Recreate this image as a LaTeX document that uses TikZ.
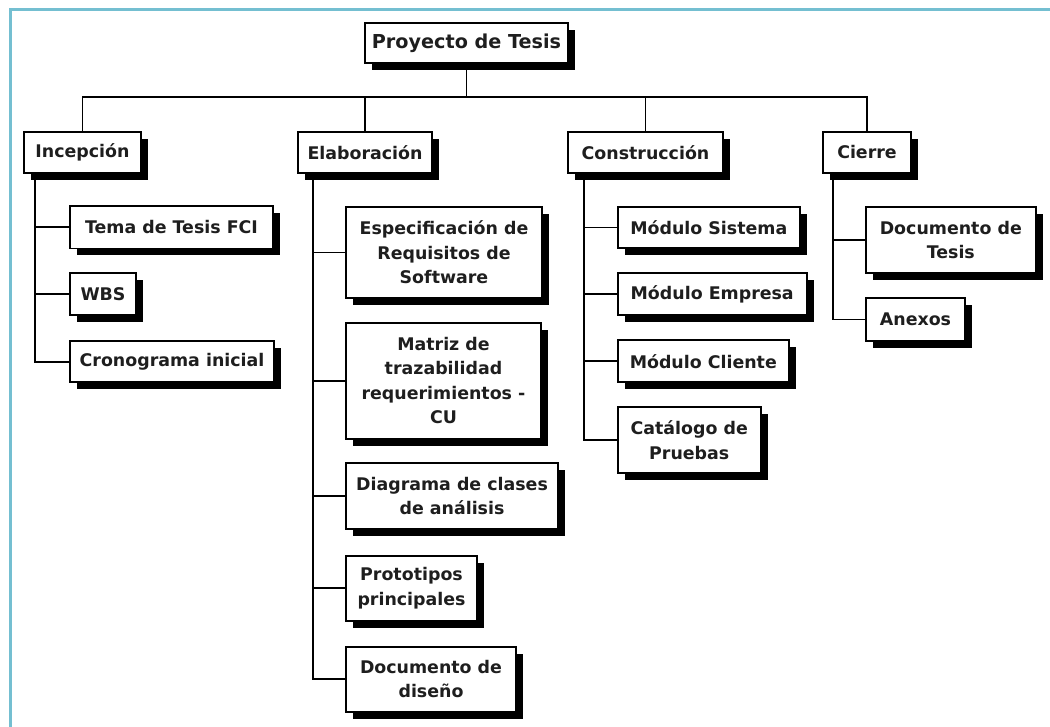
\documentclass[tikz,border=0pt]{standalone}
\usepackage{fontspec}
\setmainfont{DejaVu Sans}
\usetikzlibrary{shadows}
\definecolor{frameblue}{HTML}{74BFD1}
\definecolor{inkgray}{HTML}{1E1E1E}
\tikzset{
  wbsbox/.style={draw=black, line width=1.8pt, fill=white, inner sep=0pt,
    align=center, text=inkgray,
    font=\bfseries\fontsize{17.4}{24.5}\selectfont,
    general shadow={fill=black, shadow xshift=7pt, shadow yshift=-7pt}},
  rootbox/.style={font=\bfseries\fontsize{19.2}{24.5}\selectfont},
  conn/.style={draw=black, line width=1.9pt},
}
\newcommand{\wbsnode}[7][]{%
  \node[wbsbox, #1, minimum width=#5pt, minimum height=#6pt] (#2) at (#3,#4) {#7};}
\begin{document}
\begin{tikzpicture}[x=1pt,y=-1pt]
\useasboundingbox (0,0) rectangle (1050,727);
\fill[white] (0,0) rectangle (1050,727);
% page frame
\draw[frameblue, line width=3pt] (10.5,727) -- (10.5,9.5) -- (1050,9.5);

% root
\wbsnode[rootbox]{root}{466.5}{43}{203}{40}{Proyecto de Tesis}
% phases
\wbsnode{inc}{82.5}{152.5}{117}{41}{Incepción}
\wbsnode{elab}{365}{152.5}{134}{41}{Elaboración}
\wbsnode{cons}{645.5}{152.5}{155}{41}{Construcción}
\wbsnode{cie}{867}{152.5}{88}{41}{Cierre}
% Incepción
\wbsnode{tema}{171.5}{227.2}{203}{42.5}{Tema de Tesis FCI}
\wbsnode{wbs}{103}{294.2}{66}{41.7}{WBS}
\wbsnode{cron}{172}{361.7}{204}{41.3}{Cronograma inicial}
% Elaboración
\wbsnode{esp}{444}{252.5}{196}{91.6}{Especificación de\\Requisitos de\\Software}
\wbsnode{mat}{443.5}{380.7}{195}{116}{Matriz de\\trazabilidad\\requerimientos -\\CU}
\wbsnode{dia}{452}{496.2}{212}{65.7}{Diagrama de clases\\de análisis}
\wbsnode{pro}{411.5}{588.3}{131}{64.7}{Prototipos\\principales}
\wbsnode{doc}{431}{679.2}{170}{65}{Documento de\\diseño}
% Construcción
\wbsnode{mods}{708.8}{227.5}{182.3}{41.6}{Módulo Sistema}
\wbsnode{mode}{712.2}{294.2}{189}{41.7}{Módulo Empresa}
\wbsnode{modc}{703.3}{361.2}{171.3}{42.3}{Módulo Cliente}
\wbsnode{cat}{689.2}{440.3}{143}{66}{Catálogo de\\Pruebas}
% Cierre
\wbsnode{doct}{950.8}{240}{169.7}{66.6}{Documento de\\Tesis}
\wbsnode{anx}{915.5}{319.5}{99}{42.4}{Anexos}

% bus and spine positions
\coordinate (bus) at (0,97);
\coordinate (incx) at (35,0);
\coordinate (elabx) at (313.3,0);
\coordinate (consx) at (584.3,0);
\coordinate (ciex) at (833.3,0);

% root to phases
\draw[conn] (root.south) -- (root.south |- bus);
\draw[conn] (inc.north) -- (inc.north |- bus) -- (cie.north |- bus) -- (cie.north);
\draw[conn] (elab.north) -- (elab.north |- bus);
\draw[conn] (cons.north) -- (cons.north |- bus);

% Incepción children
\draw[conn] (incx |- inc.south) |- (cron.west);
\draw[conn] (incx |- tema.west) -- (tema.west);
\draw[conn] (incx |- wbs.west) -- (wbs.west);
% Elaboración children
\draw[conn] (elabx |- elab.south) |- (doc.west);
\draw[conn] (elabx |- esp.west) -- (esp.west);
\draw[conn] (elabx |- mat.west) -- (mat.west);
\draw[conn] (elabx |- dia.west) -- (dia.west);
\draw[conn] (elabx |- pro.west) -- (pro.west);
% Construcción children
\draw[conn] (consx |- cons.south) |- (cat.west);
\draw[conn] (consx |- mods.west) -- (mods.west);
\draw[conn] (consx |- mode.west) -- (mode.west);
\draw[conn] (consx |- modc.west) -- (modc.west);
% Cierre children
\draw[conn] (ciex |- cie.south) |- (anx.west);
\draw[conn] (ciex |- doct.west) -- (doct.west);
\end{tikzpicture}
\end{document}
